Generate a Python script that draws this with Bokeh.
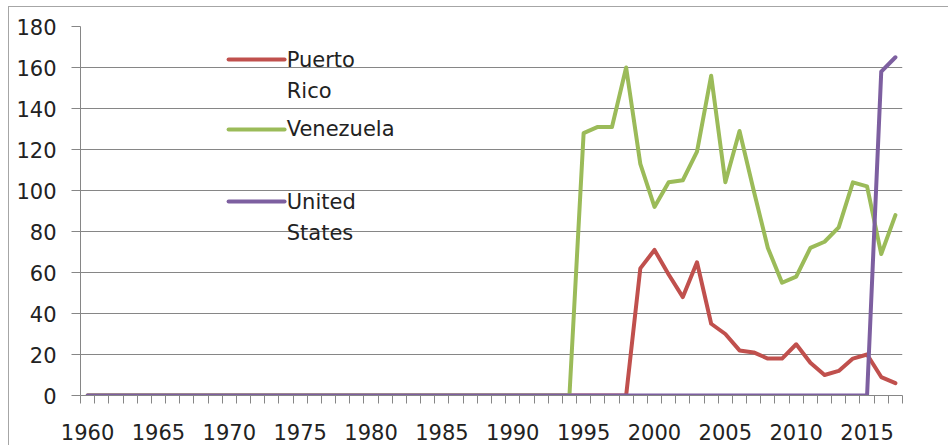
from bokeh.plotting import figure
from bokeh.models import FixedTicker, Label, Range1d
from bokeh.embed import file_html
from bokeh.resources import INLINE

years = list(range(1960, 2018))

puerto_rico = [0, 0, 0, 0, 0, 0, 0, 0, 0, 0,
               0, 0, 0, 0, 0, 0, 0, 0, 0, 0,
               0, 0, 0, 0, 0, 0, 0, 0, 0, 0,
               0, 0, 0, 0, 0, 0, 0, 0, 0,
               62, 71, 59, 48, 65, 35, 30, 22, 21, 18,
               18, 25, 16, 10, 12, 18, 20, 9, 6]

venezuela = [0, 0, 0, 0, 0, 0, 0, 0, 0, 0,
             0, 0, 0, 0, 0, 0, 0, 0, 0, 0,
             0, 0, 0, 0, 0, 0, 0, 0, 0, 0,
             0, 0, 0, 0, 0,
             128, 131, 131, 160, 113, 92, 104, 105, 119, 156,
             104, 129, 100, 72, 55, 58, 72, 75, 82, 104,
             102, 69, 88]

united_states = [0, 0, 0, 0, 0, 0, 0, 0, 0, 0,
                 0, 0, 0, 0, 0, 0, 0, 0, 0, 0,
                 0, 0, 0, 0, 0, 0, 0, 0, 0, 0,
                 0, 0, 0, 0, 0, 0, 0, 0, 0, 0,
                 0, 0, 0, 0, 0, 0, 0, 0, 0, 0,
                 0, 0, 0, 0, 0, 0,
                 158, 165]

series_names = [["Puerto", "Rico"], ["Venezuela"], ["United", "States"]]
series_colors = ["#C0504D", "#9BBB59", "#7D5FA0"]
label_years = [1960, 1965, 1970, 1975, 1980, 1985, 1990, 1995, 2000, 2005, 2010, 2015]
y_ticks = [0, 20, 40, 60, 80, 100, 120, 140, 160, 180]

FONT = "DejaVu Sans"
GRID = "#868686"
TXT = "#222222"

p = figure(width=940, height=439,
           x_range=Range1d(years[0] - 0.5, years[-1] + 0.5),
           y_range=Range1d(0, 180),
           output_backend="svg", toolbar_location=None,
           min_border_left=71, min_border_right=47,
           min_border_top=19, min_border_bottom=51)
p.outline_line_color = None
p.background_fill_color = "white"
p.border_fill_color = "white"
p.styles = {"margin-left": "8px", "margin-top": "6px",
            "border-left": "1px solid #a6a6a6", "border-top": "1px solid #a6a6a6",
            "box-sizing": "border-box"}

# grid
p.xgrid.grid_line_color = None
p.ygrid.ticker = FixedTicker(ticks=y_ticks)
p.ygrid.grid_line_color = GRID
p.ygrid.grid_line_width = 1

# y axis
p.yaxis.ticker = FixedTicker(ticks=y_ticks)
p.yaxis.axis_line_color = GRID
p.yaxis.major_tick_line_color = GRID
p.yaxis.major_tick_out = 9
p.yaxis.major_tick_in = 0
p.yaxis.minor_tick_line_color = None
p.yaxis.major_label_standoff = 15
p.yaxis.major_label_text_font = FONT
p.yaxis.major_label_text_font_size = "21px"
p.yaxis.major_label_text_color = TXT

# x axis: ticks at category boundaries, labels at every 5th category
boundaries = [y - 0.5 for y in years] + [years[-1] + 0.5]
p.xaxis.ticker = FixedTicker(ticks=label_years, minor_ticks=boundaries)
p.xaxis.axis_line_color = GRID
p.xaxis.major_tick_out = 0
p.xaxis.major_tick_in = 0
p.xaxis.minor_tick_line_color = GRID
p.xaxis.minor_tick_out = 8
p.xaxis.minor_tick_in = 0
p.xaxis.major_label_standoff = 20
p.xaxis.major_label_text_font = FONT
p.xaxis.major_label_text_font_size = "21px"
p.xaxis.major_label_text_color = TXT

for vals, col in zip([puerto_rico, venezuela, united_states], series_colors):
    p.line(years, vals, line_color=col, line_width=4, line_join="round", line_cap="round")

# manual legend (Excel-style, wrapped labels)
leg_x0, leg_x1, leg_tx = 1969.95, 1973.9, 1974.05
leg_rows = [[163.9, 148.3], [129.8], [94.6, 79.5]]
for names, col, rows in zip(series_names, series_colors, leg_rows):
    p.segment(x0=[leg_x0], y0=[rows[0]], x1=[leg_x1], y1=[rows[0]],
              line_color=col, line_width=4, line_cap="round")
    for name, yy in zip(names, rows):
        p.add_layout(Label(x=leg_tx, y=yy, text=name, text_font=FONT,
                           text_font_size="21px", text_color=TXT,
                           text_baseline="middle", text_align="left"))

open("out.html", "w").write(file_html(p, INLINE))
